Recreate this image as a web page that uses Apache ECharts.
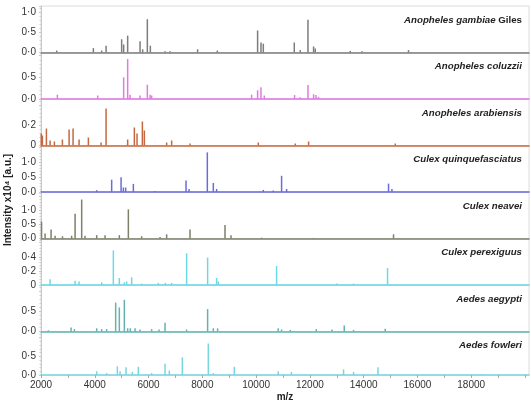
<!DOCTYPE html>
<html>
<head>
<meta charset="utf-8">
<script src="https://cdn.jsdelivr.net/npm/echarts@6/dist/echarts.min.js"></script>
<style>
  html, body { margin: 0; padding: 0; background: #fff; }
  #chart { width: 531px; height: 403px; }
</style>
</head>
<body>
<div id="chart"></div>
<script>
// peak lists: [m/z, intensity x10^4]
const gilesPeaks = [[2584,0.05],[3948,0.11],[4257,0.05],[4420,0.17],[5000,0.33],[5074,0.2],[5223,0.42],[5684,0.28],[5781,0.08],[5955,0.83],[6067,0.17],[6613,0.03],[6800,0.03],[7825,0.08],[8558,0.05],[10056,0.55],[10182,0.25],[10268,0.22],[11420,0.25],[11643,0.06],[11929,0.82],[12138,0.15],[12201,0.1],[13502,0.04],[13937,0.03],[15669,0.06]];
const coluzziiPeaks = [[2610,0.1],[4108,0.08],[5074,0.5],[5223,0.92],[5312,0.1],[5684,0.08],[5955,0.33],[6056,0.1],[6115,0.08],[9833,0.1],[10056,0.2],[10182,0.27],[10305,0.08],[11431,0.09],[11643,0.04],[11929,0.32],[12138,0.11],[12227,0.09],[12323,0.05]];
const arabiensisPeaks = [[2010,0.12],[2052,0.1],[2201,0.17],[2338,0.05],[2498,0.04],[2796,0.06],[3045,0.16],[3193,0.17],[3416,0.06],[3762,0.08],[4234,0.03],[4420,0.37],[5223,0.06],[5472,0.18],[5572,0.12],[5770,0.24],[5844,0.15],[6673,0.03],[6859,0.05],[7543,0.02],[10082,0.03],[11457,0.02],[11952,0.04],[15175,0.02]];
const quinquePeaks = [[4071,0.06],[4628,0.41],[4978,0.49],[5063,0.15],[5149,0.15],[5435,0.27],[6242,0.03],[7394,0.38],[7506,0.1],[8186,1.32],[8409,0.3],[8532,0.1],[10268,0.07],[10640,0.05],[10948,0.54],[11134,0.1],[14926,0.28],[15052,0.1]];
const neaveiPeaks = [[2020,0.6],[2152,0.18],[2375,0.32],[2524,0.1],[2800,0.08],[3140,0.1],[3268,0.88],[3513,1.39],[3639,0.1],[4071,0.12],[4383,0.12],[4914,0.12],[5249,1.04],[5744,0.08],[6428,0.05],[6673,0.15],[7543,0.32],[8844,0.48],[9067,0.12],[10205,0.03],[12138,0.02],[15112,0.15]];
const perexiguusPeaks = [[2338,0.08],[3268,0.06],[3416,0.05],[4257,0.04],[4691,0.49],[4914,0.1],[5100,0.04],[5186,0.05],[5372,0.11],[5744,0.02],[6364,0.03],[6625,0.03],[6859,0.03],[7416,0.45],[8197,0.39],[8532,0.1],[8595,0.05],[10762,0.27],[13007,0.02],[13625,0.02],[14888,0.24]];
const aegyptiPeaks = [[2275,0.03],[3119,0.1],[3242,0.06],[4071,0.08],[4257,0.06],[4443,0.06],[4777,0.72],[4914,0.6],[5100,0.79],[5223,0.08],[5323,0.08],[5498,0.08],[5684,0.05],[6115,0.06],[6390,0.05],[6613,0.22],[7416,0.05],[8197,0.56],[8409,0.08],[8569,0.08],[10825,0.08],[10948,0.05],[11271,0.04],[12238,0.06],[12822,0.05],[13279,0.15],[13625,0.04],[14803,0.07]];
const fowleriPeaks = [[4071,0.1],[4443,0.05],[4840,0.23],[4940,0.1],[5164,0.21],[5398,0.08],[5621,0.22],[6115,0.05],[6613,0.3],[6773,0.12],[7257,0.47],[8223,0.84],[8409,0.05],[9190,0.22],[10825,0.1],[11316,0.08],[13253,0.15],[13625,0.08],[14532,0.21],[18398,0.03]];

const species = ['Anopheles gambiae', 'Anopheles coluzzii', 'Anopheles arabiensis', 'Culex quinquefasciatus', 'Culex neavei', 'Culex perexiguus', 'Aedes aegypti', 'Aedes fowleri'];
const peaks = [gilesPeaks, coluzziiPeaks, arabiensisPeaks, quinquePeaks, neaveiPeaks, perexiguusPeaks, aegyptiPeaks, fowleriPeaks];
const colors = ['#7d7d7d', '#e27ae4', '#c4693f', '#6b6bdf', '#7f7f6a', '#6cd9e6', '#63b2b2', '#78d6df'];

// y axis ranges and the tick labels shown on each panel
const yMax = [1.16, 1.07, 0.465, 1.55, 1.66, 0.66, 1.16, 1.16];
const yStep = [0.5, 0.5, 0.2, 0.5, 0.5, 0.2, 0.5, 0.5];
const yLabels = [[0, 0.5, 1], [0, 0.5], [0, 0.2], [0, 0.5, 1], [0, 0.5, 1], [0, 0.2, 0.4], [0, 0.5], [0, 0.5]];
const bareZero = [false, false, true, false, false, true, false, false]; // "0" instead of "0·0"
const xLabels = [2000, 4000, 6000, 8000, 10000, 12000, 14000, 16000, 18000];
const xMin = 2000, xMax = 20150;

const FONT = 'Liberation Sans';
const PANEL_TOP = 6, PANEL_H = 46.5;

const chart = echarts.init(document.getElementById('chart'));

const grids = [], xAxes = [], yAxes = [], series = [], titles = [];
peaks.forEach(function (data, i) {
  const top = PANEL_TOP + i * PANEL_H;
  const last = i === peaks.length - 1;
  grids.push({
    left: 41, right: 2, top: top, height: PANEL_H,
    show: true, borderColor: '#dcdcdc', borderWidth: 1, backgroundColor: 'transparent'
  });
  xAxes.push({
    type: 'value', gridIndex: i, min: xMin, max: xMax, interval: 1000,
    axisLine: { show: true, lineStyle: { color: colors[i], width: 1.6 } },
    axisTick: { show: last, length: 3, lineStyle: { color: '#aaa' } },
    axisLabel: {
      show: last, margin: 5, fontFamily: FONT, fontSize: 10, color: '#333',
      showMaxLabel: false,
      formatter: function (v) { return xLabels.indexOf(v) >= 0 ? String(v) : ''; }
    },
    splitLine: { show: false },
    name: last ? 'm/z' : '', nameLocation: 'middle', nameGap: 17,
    nameTextStyle: { fontFamily: FONT, fontSize: 10, fontWeight: 'bold', color: '#222' }
  });
  yAxes.push({
    type: 'value', gridIndex: i, min: 0, max: yMax[i], interval: yStep[i],
    axisLine: { show: true, lineStyle: { color: '#c8c8c8' } },
    axisTick: { show: true, length: 2, lineStyle: { color: '#c8c8c8' } },
    minorTick: { show: true, splitNumber: 5, length: 1.5, lineStyle: { color: '#d0d0d0' } },
    axisLabel: {
      margin: 5, fontFamily: FONT, fontSize: 10, color: '#333',
      showMaxLabel: false,
      formatter: function (v) {
        const ok = yLabels[i].some(function (l) { return Math.abs(l - v) < 1e-6; });
        if (!ok) return '';
        if (v === 0 && bareZero[i]) return '0';
        return v.toFixed(1).replace('.', '·');
      }
    },
    splitLine: { show: false }
  });
  series.push({
    type: 'bar', xAxisIndex: i, yAxisIndex: i, data: data,
    barWidth: 1.5, itemStyle: { color: colors[i] }, silent: true
  });
  titles.push({
    text: i === 0 ? '{i|' + species[i] + ' }{n|Giles}' : '{i|' + species[i] + '}',
    right: 4, top: top + 4,
    textStyle: {
      rich: {
        i: { fontFamily: FONT, fontSize: 9.7, fontWeight: 'bold', fontStyle: 'italic', color: '#222' },
        n: { fontFamily: FONT, fontSize: 9.7, fontWeight: 'bold', color: '#222' }
      }
    }
  });
});

chart.setOption({
  animation: false,
  title: titles,
  grid: grids,
  xAxis: xAxes,
  yAxis: yAxes,
  series: series,
  graphic: [{
    type: 'text', x: 8.5, y: 200, rotation: Math.PI / 2,
    style: {
      text: 'Intensity x10⁴ [a.u.]', fontFamily: FONT, fontSize: 10, fontWeight: 'bold',
      fill: '#222', align: 'center', verticalAlign: 'middle'
    }
  }]
});
</script>
</body>
</html>
